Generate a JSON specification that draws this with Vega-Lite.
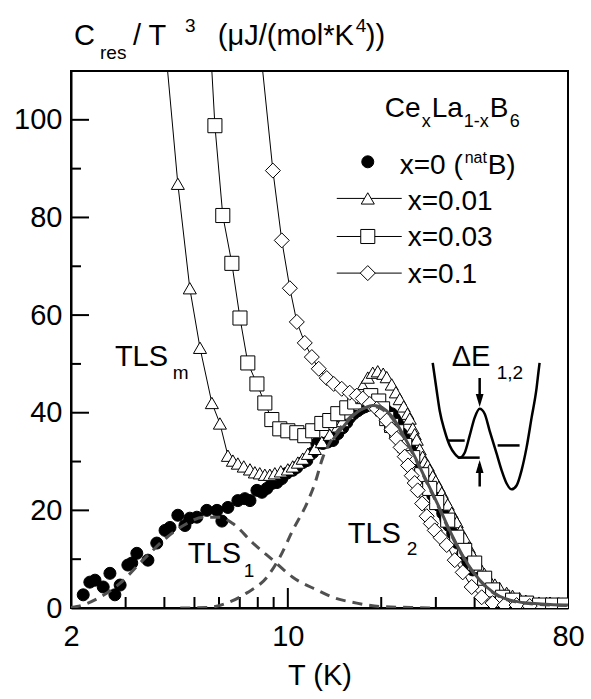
{
  "$schema": "https://vega.github.io/schema/vega-lite/v6.json",
  "width": 497,
  "height": 537,
  "autosize": {"type": "none"},
  "padding": {"left": 71, "top": 71, "right": 23, "bottom": 91},
  "background": "white",
  "config": {"view": {"stroke": "black", "strokeWidth": 2}, "font": "Liberation Sans"},
  "datasets": {
    "ticksx": [{"T":3,"C":0,"m":0},{"T":4,"C":0,"m":0},{"T":5,"C":0,"m":0},{"T":6,"C":0,"m":0},{"T":7,"C":0,"m":0},{"T":8,"C":0,"m":0},{"T":9,"C":0,"m":0},{"T":10,"C":0,"m":1},{"T":20,"C":0,"m":0},{"T":30,"C":0,"m":0},{"T":40,"C":0,"m":0},{"T":50,"C":0,"m":0},{"T":60,"C":0,"m":0},{"T":70,"C":0,"m":0}],
    "ticksy": [{"T":2,"C":10,"m":0},{"T":2,"C":20,"m":1},{"T":2,"C":30,"m":0},{"T":2,"C":40,"m":1},{"T":2,"C":50,"m":0},{"T":2,"C":60,"m":1},{"T":2,"C":70,"m":0},{"T":2,"C":80,"m":1},{"T":2,"C":90,"m":0},{"T":2,"C":100,"m":1}],
    "pts": [
      {"s":"x0","T":2.19,"C":2.7},{"s":"x0","T":2.30,"C":5.3},{"s":"x0","T":2.39,"C":5.7},{"s":"x0","T":2.54,"C":4.3},{"s":"x0","T":2.67,"C":7.1},{"s":"x0","T":2.77,"C":2.7},{"s":"x0","T":2.88,"C":4.7},{"s":"x0","T":3.05,"C":8.8},{"s":"x0","T":3.14,"C":9.2},{"s":"x0","T":3.26,"C":11.2},{"s":"x0","T":3.54,"C":9.8},{"s":"x0","T":3.78,"C":13.3},{"s":"x0","T":4.02,"C":15.9},{"s":"x0","T":4.17,"C":16.5},{"s":"x0","T":4.42,"C":19.0},{"s":"x0","T":4.66,"C":16.9},{"s":"x0","T":4.83,"C":18.4},{"s":"x0","T":5.09,"C":18.6},{"s":"x0","T":5.48,"C":20.0},{"s":"x0","T":5.91,"C":20.0},{"s":"x0","T":6.13,"C":17.8},{"s":"x0","T":6.41,"C":20.6},{"s":"x0","T":6.90,"C":22.0},{"s":"x0","T":7.27,"C":22.4},{"s":"x0","T":7.55,"C":22.0},{"s":"x0","T":7.95,"C":24.1},{"s":"x0","T":8.25,"C":23.7},{"s":"x0","T":8.56,"C":24.5},{"s":"x0","T":8.88,"C":25.5},{"s":"x0","T":9.22,"C":25.7},{"s":"x0","T":9.56,"C":26.5},{"s":"x0","T":9.92,"C":27.6},{"s":"x0","T":10.37,"C":28.2},{"s":"x0","T":10.69,"C":28.8},{"s":"x0","T":11.17,"C":29.8},{"s":"x0","T":11.51,"C":30.2},{"s":"x0","T":12.03,"C":31.8},{"s":"x0","T":12.40,"C":33.7},{"s":"x0","T":12.96,"C":33.7},{"s":"x0","T":13.45,"C":34.0},{"s":"x0","T":13.96,"C":34.3},{"s":"x0","T":14.49,"C":35.7},{"s":"x0","T":15.03,"C":36.9},{"s":"x0","T":15.49,"C":38.0},{"s":"x0","T":15.83,"C":39.0},{"s":"x0","T":16.30,"C":39.8},{"s":"x0","T":16.80,"C":40.4},{"s":"x0","T":17.25,"C":40.9},{"s":"x0","T":17.70,"C":41.2},{"s":"x0","T":18.20,"C":41.6},{"s":"x0","T":18.78,"C":41.8},{"s":"x0","T":19.30,"C":41.8},{"s":"x0","T":19.78,"C":41.6},{"s":"x0","T":20.30,"C":41.0},{"s":"x0","T":20.83,"C":40.4},{"s":"x0","T":21.62,"C":39.8},{"s":"x0","T":22.10,"C":38.8},{"s":"x0","T":22.60,"C":37.8},{"s":"x0","T":23.29,"C":35.7},{"s":"x0","T":24.00,"C":34.5},{"s":"x0","T":24.71,"C":33.3},{"s":"x0","T":25.40,"C":31.8},{"s":"x0","T":26.03,"C":30.2},{"s":"x0","T":26.81,"C":28.2},{"s":"x0","T":27.50,"C":27.2},{"s":"x0","T":28.24,"C":26.1},{"s":"x0","T":29.31,"C":23.1},{"s":"x0","T":30.00,"C":22.0},{"s":"x0","T":30.64,"C":21.0},{"s":"x0","T":31.57,"C":19.4},{"s":"x0","T":32.30,"C":18.2},{"s":"x0","T":33.00,"C":16.9},{"s":"x0","T":34.00,"C":15.3},{"s":"x0","T":35.28,"C":13.3},{"s":"x0","T":36.62,"C":11.2},{"s":"x0","T":38.00,"C":9.5},{"s":"x0","T":39.43,"C":7.8},
      {"s":"x1","T":3.90,"C":125},{"s":"x1","T":4.42,"C":86.9},{"s":"x1","T":4.83,"C":65.5},{"s":"x1","T":5.21,"C":53.3},{"s":"x1","T":5.69,"C":42.0},{"s":"x1","T":6.04,"C":37.8},{"s":"x1","T":6.41,"C":31.2},{"s":"x1","T":6.65,"C":30.2},{"s":"x1","T":6.90,"C":29.6},{"s":"x1","T":7.21,"C":29.0},{"s":"x1","T":7.55,"C":28.4},{"s":"x1","T":7.83,"C":27.8},{"s":"x1","T":8.12,"C":27.6},{"s":"x1","T":8.43,"C":27.3},{"s":"x1","T":8.75,"C":27.3},{"s":"x1","T":9.08,"C":27.6},{"s":"x1","T":9.49,"C":28.0},{"s":"x1","T":10.0,"C":28.4},{"s":"x1","T":10.37,"C":29.0},{"s":"x1","T":10.77,"C":29.8},{"s":"x1","T":11.17,"C":30.6},{"s":"x1","T":11.60,"C":31.6},{"s":"x1","T":12.22,"C":32.6},{"s":"x1","T":12.87,"C":34.0},{"s":"x1","T":13.65,"C":35.5},{"s":"x1","T":14.49,"C":37.2},{"s":"x1","T":15.03,"C":38.3},{"s":"x1","T":15.60,"C":39.8},{"s":"x1","T":16.19,"C":41.6},{"s":"x1","T":16.80,"C":43.6},{"s":"x1","T":17.44,"C":45.5},{"s":"x1","T":18.10,"C":47.2},{"s":"x1","T":18.78,"C":48.2},{"s":"x1","T":19.49,"C":48.5},{"s":"x1","T":20.30,"C":48.0},{"s":"x1","T":20.83,"C":47.3},{"s":"x1","T":21.62,"C":45.8},{"s":"x1","T":22.30,"C":44.2},{"s":"x1","T":22.94,"C":42.8},{"s":"x1","T":23.63,"C":41.3},{"s":"x1","T":24.30,"C":39.8},{"s":"x1","T":24.71,"C":38.8},{"s":"x1","T":25.27,"C":36.8},{"s":"x1","T":25.64,"C":35.6},{"s":"x1","T":26.03,"C":34.5},{"s":"x1","T":26.61,"C":32.5},{"s":"x1","T":27.20,"C":31.0},{"s":"x1","T":27.62,"C":30.0},{"s":"x1","T":28.24,"C":29.2},{"s":"x1","T":28.66,"C":28.3},{"s":"x1","T":29.31,"C":27.0},{"s":"x1","T":29.97,"C":26.0},{"s":"x1","T":30.64,"C":24.8},{"s":"x1","T":31.33,"C":23.6},{"s":"x1","T":32.00,"C":22.3},{"s":"x1","T":32.76,"C":21.2},{"s":"x1","T":33.75,"C":19.5},{"s":"x1","T":34.51,"C":18.3},{"s":"x1","T":35.02,"C":17.6},{"s":"x1","T":36.00,"C":15.8},{"s":"x1","T":37.16,"C":14.3},{"s":"x1","T":38.30,"C":12.4},{"s":"x1","T":39.43,"C":10.8},{"s":"x1","T":40.50,"C":9.5},{"s":"x1","T":41.53,"C":8.4},{"s":"x1","T":43.0,"C":7.0},{"s":"x1","T":44.72,"C":5.7},{"s":"x1","T":46.5,"C":4.8},{"s":"x1","T":48.16,"C":4.1},{"s":"x1","T":50.73,"C":3.1},{"s":"x1","T":53.0,"C":2.5},{"s":"x1","T":55.85,"C":2.0},{"s":"x1","T":58.5,"C":1.5},{"s":"x1","T":61.51,"C":1.2},{"s":"x1","T":64.5,"C":1.1},{"s":"x1","T":68.24,"C":1.0},{"s":"x1","T":71.0,"C":0.9},{"s":"x1","T":73.49,"C":0.9},{"s":"x1","T":76.84,"C":0.9},{"s":"x1","T":79.5,"C":0.9},
      {"s":"x3","T":5.52,"C":125},{"s":"x3","T":5.82,"C":98.8},{"s":"x3","T":6.17,"C":80.4},{"s":"x3","T":6.60,"C":70.6},{"s":"x3","T":7.01,"C":59.4},{"s":"x3","T":7.43,"C":50.2},{"s":"x3","T":7.95,"C":45.9},{"s":"x3","T":8.43,"C":42.0},{"s":"x3","T":8.88,"C":38.6},{"s":"x3","T":9.42,"C":36.7},{"s":"x3","T":10.0,"C":36.3},{"s":"x3","T":10.69,"C":35.9},{"s":"x3","T":11.34,"C":35.3},{"s":"x3","T":12.03,"C":36.3},{"s":"x3","T":12.87,"C":37.8},{"s":"x3","T":13.65,"C":38.4},{"s":"x3","T":14.49,"C":39.8},{"s":"x3","T":15.49,"C":41.0},{"s":"x3","T":16.43,"C":42.2},{"s":"x3","T":17.44,"C":43.3},{"s":"x3","T":18.50,"C":43.5},{"s":"x3","T":19.63,"C":42.4},{"s":"x3","T":20.20,"C":40.8},{"s":"x3","T":20.83,"C":38.8},{"s":"x3","T":21.60,"C":37.4},{"s":"x3","T":22.44,"C":36.1},{"s":"x3","T":23.81,"C":33.3},{"s":"x3","T":25.27,"C":30.8},{"s":"x3","T":27.01,"C":27.3},{"s":"x3","T":28.66,"C":24.5},{"s":"x3","T":30.19,"C":21.6},{"s":"x3","T":32.76,"C":18.0},{"s":"x3","T":35.02,"C":14.5},{"s":"x3","T":37.16,"C":11.8},{"s":"x3","T":40.02,"C":9.2},{"s":"x3","T":43.09,"C":6.1},{"s":"x3","T":45.72,"C":3.7},{"s":"x3","T":49.24,"C":2.2},{"s":"x3","T":53.02,"C":1.6},{"s":"x3","T":58.83,"C":1.0},{"s":"x3","T":64.79,"C":0.6},{"s":"x3","T":71.35,"C":0.6},{"s":"x3","T":77.98,"C":0.6},
      {"s":"x10","T":7.85,"C":125},{"s":"x10","T":8.95,"C":89.6},{"s":"x10","T":9.56,"C":75.3},{"s":"x10","T":10.15,"C":65.5},{"s":"x10","T":10.69,"C":58.6},{"s":"x10","T":11.34,"C":54.3},{"s":"x10","T":11.95,"C":51.4},{"s":"x10","T":12.58,"C":49.0},{"s":"x10","T":13.35,"C":47.1},{"s":"x10","T":14.06,"C":45.9},{"s":"x10","T":14.92,"C":44.9},{"s":"x10","T":15.83,"C":44.1},{"s":"x10","T":16.68,"C":43.5},{"s":"x10","T":17.44,"C":42.9},{"s":"x10","T":18.37,"C":41.8},{"s":"x10","T":19.35,"C":40.8},{"s":"x10","T":20.10,"C":39.8},{"s":"x10","T":20.83,"C":38.4},{"s":"x10","T":21.60,"C":36.6},{"s":"x10","T":22.44,"C":34.7},{"s":"x10","T":23.10,"C":32.9},{"s":"x10","T":23.81,"C":31.0},{"s":"x10","T":24.40,"C":29.2},{"s":"x10","T":25.08,"C":27.1},{"s":"x10","T":25.64,"C":25.6},{"s":"x10","T":26.22,"C":24.1},{"s":"x10","T":27.10,"C":21.4},{"s":"x10","T":28.03,"C":18.8},{"s":"x10","T":28.90,"C":17.3},{"s":"x10","T":29.75,"C":15.9},{"s":"x10","T":31.10,"C":14.4},{"s":"x10","T":32.52,"C":12.9},{"s":"x10","T":34.51,"C":9.8},{"s":"x10","T":36.62,"C":7.3},{"s":"x10","T":39.14,"C":4.3},{"s":"x10","T":42.15,"C":2.2},{"s":"x10","T":45.72,"C":1.0},{"s":"x10","T":49.98,"C":0.6},{"s":"x10","T":54.62,"C":0.6},{"s":"x10","T":60.2,"C":0.4}
    ],
    "fit": [
      {"f":"tls1","T":2.0,"C":0.1},{"f":"tls1","T":2.09,"C":0.3},{"f":"tls1","T":2.48,"C":2.2},{"f":"tls1","T":2.88,"C":5.1},{"f":"tls1","T":3.41,"C":9.8},{"f":"tls1","T":4.08,"C":14.5},{"f":"tls1","T":4.73,"C":17.3},{"f":"tls1","T":5.32,"C":18.6},{"f":"tls1","T":6.04,"C":18.6},{"f":"tls1","T":6.65,"C":17.3},{"f":"tls1","T":7.72,"C":13.3},{"f":"tls1","T":8.95,"C":9.8},{"f":"tls1","T":10.37,"C":6.3},{"f":"tls1","T":12.40,"C":3.7},{"f":"tls1","T":13.96,"C":2.2},{"f":"tls1","T":16.68,"C":1.0},{"f":"tls1","T":19.78,"C":0.3},{"f":"tls1","T":25.0,"C":0.1},{"f":"tls1","T":30.0,"C":0.0},
      {"f":"tls2","T":4.5,"C":0.0},{"f":"tls2","T":5.5,"C":0.1},{"f":"tls2","T":6.36,"C":1.0},{"f":"tls2","T":7.38,"C":3.1},{"f":"tls2","T":8.56,"C":6.3},{"f":"tls2","T":9.42,"C":10.4},{"f":"tls2","T":10.37,"C":15.9},{"f":"tls2","T":11.51,"C":21.4},{"f":"tls2","T":12.22,"C":25.5},{"f":"tls2","T":12.96,"C":30.8},{"f":"tls2","T":13.96,"C":34.9},{"f":"tls2","T":15.03,"C":37.5},{"f":"tls2","T":15.83,"C":39.0},{"f":"tls2","T":16.80,"C":40.3},{"f":"tls2","T":17.70,"C":41.0},{"f":"tls2","T":18.78,"C":41.3},{"f":"tls2","T":19.78,"C":41.0},{"f":"tls2","T":20.83,"C":40.0},{"f":"tls2","T":21.62,"C":39.0},{"f":"tls2","T":22.60,"C":37.2},{"f":"tls2","T":23.29,"C":35.7},{"f":"tls2","T":24.71,"C":32.8},{"f":"tls2","T":26.03,"C":30.0},{"f":"tls2","T":28.24,"C":25.3},{"f":"tls2","T":30.64,"C":20.6},{"f":"tls2","T":33.0,"C":16.1},{"f":"tls2","T":35.28,"C":12.4},{"f":"tls2","T":39.43,"C":7.4},{"f":"tls2","T":43.73,"C":4.2},{"f":"tls2","T":48.16,"C":2.3},{"f":"tls2","T":53.81,"C":1.3},{"f":"tls2","T":62.43,"C":0.8},{"f":"tls2","T":80.0,"C":0.5},
      {"f":"tot","T":13.96,"C":34.5},{"f":"tot","T":15.03,"C":37.0},{"f":"tot","T":15.83,"C":38.7},{"f":"tot","T":16.80,"C":40.2},{"f":"tot","T":17.70,"C":41.0},{"f":"tot","T":18.78,"C":41.5},{"f":"tot","T":19.78,"C":41.3},{"f":"tot","T":20.83,"C":40.4},{"f":"tot","T":21.62,"C":39.3},{"f":"tot","T":22.60,"C":37.5},{"f":"tot","T":23.29,"C":36.0},{"f":"tot","T":24.71,"C":33.0},{"f":"tot","T":26.03,"C":30.2},{"f":"tot","T":26.81,"C":28.5},{"f":"tot","T":28.24,"C":25.5},{"f":"tot","T":29.31,"C":23.4},{"f":"tot","T":30.64,"C":20.8},{"f":"tot","T":31.57,"C":19.0},{"f":"tot","T":33.00,"C":16.3},{"f":"tot","T":34.00,"C":14.6},{"f":"tot","T":35.28,"C":12.6},{"f":"tot","T":36.62,"C":10.7},{"f":"tot","T":39.43,"C":7.5},{"f":"tot","T":43.73,"C":4.3},{"f":"tot","T":48.16,"C":2.4},{"f":"tot","T":53.81,"C":1.4},{"f":"tot","T":62.43,"C":0.9},{"f":"tot","T":70.0,"C":0.7},{"f":"tot","T":80.0,"C":0.6}
    ],
    "well": [
      {"T":29.31,"C":50.2},{"T":30.19,"C":44.5},{"T":30.87,"C":40.4},{"T":32.03,"C":36.3},{"T":33.25,"C":33.3},{"T":34.51,"C":31.6},{"T":35.81,"C":30.8},{"T":37.16,"C":31.8},{"T":38.56,"C":35.3},{"T":40.02,"C":39.0},{"T":41.53,"C":40.8},{"T":43.09,"C":39.8},{"T":44.72,"C":36.3},{"T":47.10,"C":31.6},{"T":48.88,"C":28.2},{"T":50.73,"C":25.5},{"T":52.63,"C":24.3},{"T":54.62,"C":25.1},{"T":56.68,"C":28.2},{"T":58.83,"C":32.9},{"T":61.06,"C":39.0},{"T":63.37,"C":45.1},{"T":64.32,"C":48.6},{"T":64.79,"C":50.2}
    ],
    "seg": [
      {"g":"lev1","T":32.76,"C":34.3},{"g":"lev1","T":37.16,"C":34.3},
      {"g":"lev2","T":47.45,"C":33.3},{"g":"lev2","T":55.85,"C":33.3},
      {"g":"step","T":35.28,"C":30.8},{"g":"step","T":41.53,"C":30.8},
      {"g":"up","T":41.53,"C":24.9},{"g":"up","T":41.531,"C":29.5},
      {"g":"down","T":41.53,"C":47.1},{"g":"down","T":41.531,"C":43.0}
    ],
    "heads": [
      {"d":"down","T":41.53,"C":42.5},
      {"d":"up","T":41.53,"C":29.0}
    ],
    "legpts": [
      {"s":"x0","T":18.10,"C":91.4},{"s":"x1","T":18.10,"C":83.9},{"s":"x3","T":18.10,"C":76.1},{"s":"x10","T":18.10,"C":68.6}
    ],
    "legline": [
      {"s":"x1","T":14.38,"C":83.9},{"s":"x1","T":23.29,"C":83.9},
      {"s":"x3","T":14.38,"C":76.1},{"s":"x3","T":23.29,"C":76.1},
      {"s":"x10","T":14.38,"C":68.6},{"s":"x10","T":23.29,"C":68.6}
    ],
    "txt": [
      {"k":"b","T":2.045,"C":115.3,"t":"C"},
      {"k":"s","T":2.48,"C":112.4,"t":"res"},
      {"k":"b","T":3.167,"C":115.3,"t":"/ T"},
      {"k":"s","T":4.66,"C":118.0,"t":"3"},
      {"k":"b","T":5.949,"C":115.3,"t":"(μJ/(mol*K"},
      {"k":"s","T":16.55,"C":118.0,"t":"4"},
      {"k":"b","T":17.83,"C":115.3,"t":"))"},
      {"k":"b","T":2.77,"C":49.6,"t":"TLS"},
      {"k":"s","T":4.26,"C":46.9,"t":"m"},
      {"k":"b","T":4.76,"C":9.18,"t":"TLS"},
      {"k":"s","T":7.21,"C":6.33,"t":"1"},
      {"k":"b","T":15.60,"C":13.27,"t":"TLS"},
      {"k":"s","T":24.17,"C":10.82,"t":"2"},
      {"k":"b","T":33.75,"C":49.6,"t":"ΔE"},
      {"k":"s","T":47.1,"C":46.9,"t":"1,2"},
      {"k":"l","T":20.53,"C":100.6,"t":"Ce"},
      {"k":"ls","T":27.01,"C":98.6,"t":"x"},
      {"k":"l","T":29.10,"C":100.6,"t":"La"},
      {"k":"ls","T":36.89,"C":98.6,"t":"1-x"},
      {"k":"l","T":44.72,"C":100.6,"t":"B"},
      {"k":"ls","T":51.89,"C":98.6,"t":"6"},
      {"k":"l","T":22.94,"C":88.8,"t":"x=0 ("},
      {"k":"n","T":37.16,"C":91.2,"t":"nat"},
      {"k":"l","T":44.06,"C":88.8,"t":"B)"},
      {"k":"l","T":24.35,"C":81.6,"t":"x=0.01"},
      {"k":"l","T":24.35,"C":74.1,"t":"x=0.03"},
      {"k":"l","T":24.35,"C":66.5,"t":"x=0.1"}
    ]
  },
  "encoding": {
    "x": {
      "field": "T", "type": "quantitative",
      "scale": {"type": "log", "domain": [2, 80], "nice": false},
      "axis": {
        "values": [2,10,80],
        "format": "d",
        "labelFont": "Liberation Sans", "labelFontSize": 29, "labelColor": "black",
        "labelPadding": 14, "labelOverlap": false, "labelFlush": false, "labelBound": false,
        "ticks": false,
        "domainColor": "black", "domainWidth": 2,
        "grid": false,
        "title": "T (K)", "titleFont": "Liberation Sans", "titleFontSize": 29, "titleFontWeight": "normal", "titleColor": "black", "titlePadding": 10
      }
    },
    "y": {
      "field": "C", "type": "quantitative",
      "scale": {"domain": [0, 110], "nice": false},
      "axis": {
        "values": [0,20,40,60,80,100],
        "labelFont": "Liberation Sans", "labelFontSize": 29, "labelColor": "black",
        "labelPadding": 9, "labelOverlap": false, "labelFlush": false, "labelBound": false,
        "ticks": false,
        "domainColor": "black", "domainWidth": 2,
        "grid": false,
        "title": null
      }
    }
  },
  "layer": [
    {
      "data": {"name": "ticksx"},
      "transform": [{"filter": "datum.m == 0"}],
      "mark": {"type": "tick", "orient": "vertical", "size": 11, "thickness": 2, "yOffset": -5.5, "color": "black", "opacity": 1},
      "encoding": {}
    },
    {
      "data": {"name": "ticksx"},
      "transform": [{"filter": "datum.m == 1"}],
      "mark": {"type": "tick", "orient": "vertical", "size": 20, "thickness": 2, "yOffset": -10, "color": "black", "opacity": 1},
      "encoding": {}
    },
    {
      "data": {"name": "ticksy"},
      "transform": [{"filter": "datum.m == 0"}],
      "mark": {"type": "tick", "orient": "horizontal", "size": 10, "thickness": 2, "xOffset": 5, "color": "black", "opacity": 1},
      "encoding": {}
    },
    {
      "data": {"name": "ticksy"},
      "transform": [{"filter": "datum.m == 1"}],
      "mark": {"type": "tick", "orient": "horizontal", "size": 18, "thickness": 2, "xOffset": 9, "color": "black", "opacity": 1},
      "encoding": {}
    },
    {
      "data": {"name": "pts"},
      "transform": [{"filter": "datum.s != 'x0'"}],
      "mark": {"type": "line", "stroke": "black", "strokeWidth": 1, "clip": true},
      "encoding": {"detail": {"field": "s"}}
    },
    {
      "data": {"name": "pts"},
      "mark": {"type": "point", "filled": true, "stroke": "black", "strokeWidth": 1, "opacity": 1, "clip": true},
      "encoding": {
        "shape": {"field": "s", "scale": {"domain": ["x0","x1","x3","x10"], "range": ["circle","triangle-up","square","diamond"]}, "legend": null},
        "fill": {"field": "s", "scale": {"domain": ["x0","x1","x3","x10"], "range": ["black","white","white","white"]}, "legend": null},
        "size": {"field": "s", "scale": {"domain": ["x0","x1","x3","x10"], "range": [144,225,144,256]}, "legend": null}
      }
    },
    {
      "data": {"name": "fit"},
      "transform": [{"filter": "datum.f != 'tot'"}],
      "mark": {"type": "line", "stroke": "#505050", "strokeWidth": 3, "strokeDash": [10, 7], "interpolate": "monotone", "clip": true},
      "encoding": {"detail": {"field": "f"}}
    },
    {
      "data": {"name": "fit"},
      "transform": [{"filter": "datum.f == 'tot'"}],
      "mark": {"type": "line", "stroke": "#505050", "strokeWidth": 3, "interpolate": "monotone", "clip": true},
      "encoding": {}
    },
    {
      "data": {"name": "well"},
      "mark": {"type": "line", "stroke": "black", "strokeWidth": 2.5, "interpolate": "monotone"},
      "encoding": {}
    },
    {
      "data": {"name": "seg"},
      "mark": {"type": "line", "stroke": "black", "strokeWidth": 2.5},
      "encoding": {"detail": {"field": "g"}}
    },
    {
      "data": {"name": "heads"},
      "transform": [{"filter": "datum.d == 'down'"}],
      "mark": {"type": "point", "filled": true, "fill": "black", "strokeWidth": 0, "opacity": 1, "size": 169, "shape": "M-0.6,-1L0.6,-1L0,1Z"},
      "encoding": {}
    },
    {
      "data": {"name": "heads"},
      "transform": [{"filter": "datum.d == 'up'"}],
      "mark": {"type": "point", "filled": true, "fill": "black", "strokeWidth": 0, "opacity": 1, "size": 169, "shape": "M-0.6,1L0.6,1L0,-1Z"},
      "encoding": {}
    },
    {
      "data": {"name": "legline"},
      "mark": {"type": "line", "stroke": "black", "strokeWidth": 1},
      "encoding": {"detail": {"field": "s"}}
    },
    {
      "data": {"name": "legpts"},
      "mark": {"type": "point", "filled": true, "stroke": "black", "strokeWidth": 1, "opacity": 1},
      "encoding": {
        "shape": {"field": "s", "scale": {"domain": ["x0","x1","x3","x10"], "range": ["circle","triangle-up","square","diamond"]}, "legend": null},
        "fill": {"field": "s", "scale": {"domain": ["x0","x1","x3","x10"], "range": ["black","white","white","white"]}, "legend": null},
        "size": {"field": "s", "scale": {"domain": ["x0","x1","x3","x10"], "range": [144,225,144,256]}, "legend": null}
      }
    },
    {
      "data": {"name": "txt"},
      "transform": [{"filter": "datum.k == 'b'"}],
      "mark": {"type": "text", "align": "left", "baseline": "alphabetic", "font": "Liberation Sans", "fontSize": 29, "color": "black"},
      "encoding": {"text": {"field": "t"}}
    },
    {
      "data": {"name": "txt"},
      "transform": [{"filter": "datum.k == 's'"}],
      "mark": {"type": "text", "align": "left", "baseline": "alphabetic", "font": "Liberation Sans", "fontSize": 19, "color": "black"},
      "encoding": {"text": {"field": "t"}}
    },
    {
      "data": {"name": "txt"},
      "transform": [{"filter": "datum.k == 'l'"}],
      "mark": {"type": "text", "align": "left", "baseline": "alphabetic", "font": "Liberation Sans", "fontSize": 28, "color": "black"},
      "encoding": {"text": {"field": "t"}}
    },
    {
      "data": {"name": "txt"},
      "transform": [{"filter": "datum.k == 'ls'"}],
      "mark": {"type": "text", "align": "left", "baseline": "alphabetic", "font": "Liberation Sans", "fontSize": 18, "color": "black"},
      "encoding": {"text": {"field": "t"}}
    },
    {
      "data": {"name": "txt"},
      "transform": [{"filter": "datum.k == 'n'"}],
      "mark": {"type": "text", "align": "left", "baseline": "alphabetic", "font": "Liberation Sans", "fontSize": 16, "color": "black"},
      "encoding": {"text": {"field": "t"}}
    }
  ]
}
